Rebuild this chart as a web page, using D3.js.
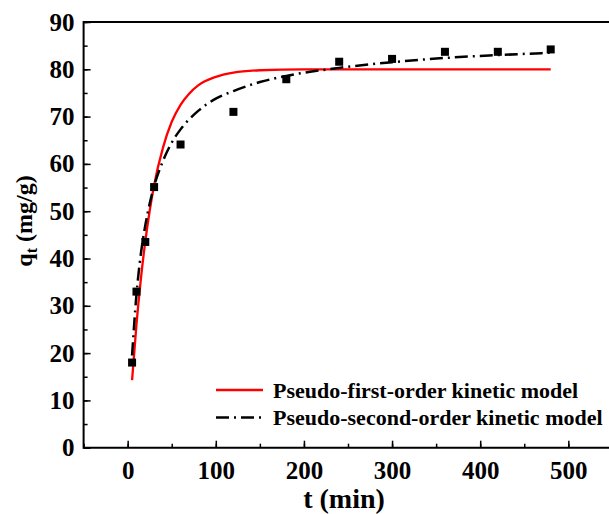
<!DOCTYPE html>
<meta charset="utf-8">
<script src="https://d3js.org/d3.v7.min.js"></script>
<style>
    body { margin: 0; background: #fff; }
    text { font-family: "Liberation Serif", "Times New Roman", serif; font-weight: bold; }
</style>
<div id="chart"></div>
<script>
    // measured points (t in min, qt in mg/g)
    var expTime = [5, 10, 20, 30, 60, 120, 180, 240, 300, 360, 420, 480];
    var expQt = [18.0, 33.0, 43.5, 55.1, 64.1, 71.0, 77.9, 81.6, 82.2, 83.7, 83.7, 84.2];

    // fitted curves
    var pfoTime = [5, 10, 15, 20, 25, 30, 40, 50, 60, 70, 80, 100, 120, 150, 200, 300, 480];
    var pfoQt = [14.3, 26.1, 35.7, 43.6, 50.1, 55.5, 63.4, 68.9, 72.5, 74.9, 76.6, 78.4, 79.3, 79.8, 80.0, 80.0, 80.0];

    var psoTime = [5, 10, 15, 20, 25, 30, 40, 50, 60, 80, 100, 120, 150, 180, 240, 300, 360, 420, 480];
    var psoQt = [19.5, 32.4, 41.0, 47.0, 51.6, 55.3, 60.6, 64.5, 67.3, 71.2, 73.8, 75.4, 77.3, 78.6, 80.3, 81.5, 82.4, 83.0, 83.5];

    var xTicks = [0, 100, 200, 300, 400, 500];
    var yTicks = [0, 10, 20, 30, 40, 50, 60, 70, 80, 90];
    var legendLabels = ["Pseudo-first-order kinetic model", "Pseudo-second-order kinetic model"];

    var W = 609, H = 514;
    var plotLeft = 83.6, plotRight = 612.4, plotTop = 22, plotBottom = 447.7;

    var svg = d3.select("#chart").append("svg")
        .attr("width", W).attr("height", H);

    var x = d3.scaleLinear().domain([-50, 550]).range([plotLeft, plotRight]);
    var y = d3.scaleLinear().domain([0, 90]).range([plotBottom, plotTop]);

    // minor ticks
    svg.append("g")
        .attr("transform", "translate(0," + plotBottom + ")")
        .call(d3.axisBottom(x).tickValues(d3.range(-50, 551, 50)).tickSize(-4).tickFormat(""))
        .call(g => g.select(".domain").remove())
        .selectAll("line").attr("stroke-width", 1.5);
    svg.append("g")
        .attr("transform", "translate(" + plotLeft + ",0)")
        .call(d3.axisLeft(y).tickValues(d3.range(0, 91, 5)).tickSize(-4).tickFormat(""))
        .call(g => g.select(".domain").remove())
        .selectAll("line").attr("stroke-width", 1.5);

    // major ticks + labels
    var xAxis = svg.append("g")
        .attr("transform", "translate(0," + plotBottom + ")")
        .call(d3.axisBottom(x).tickValues(xTicks).tickSize(-7).tickPadding(14));
    var yAxis = svg.append("g")
        .attr("transform", "translate(" + plotLeft + ",0)")
        .call(d3.axisLeft(y).tickValues(yTicks).tickSize(-7).tickPadding(9));
    [xAxis, yAxis].forEach(function (a) {
        a.select(".domain").remove();
        a.selectAll("line").attr("stroke-width", 1.5);
        a.selectAll("text").attr("font-size", 25).attr("fill", "#000");
    });

    // frame (left, bottom, top; right side falls off the canvas)
    svg.append("path")
        .attr("d", "M" + plotRight + "," + plotTop + "H" + plotLeft + "V" + plotBottom + "H" + plotRight)
        .attr("fill", "none").attr("stroke", "#000").attr("stroke-width", 2);

    var line = d3.line()
        .x(function (d) { return x(d[0]); })
        .y(function (d) { return y(d[1]); })
        .curve(d3.curveMonotoneX);

    svg.append("path")
        .datum(d3.zip(pfoTime, pfoQt))
        .attr("d", line)
        .attr("fill", "none").attr("stroke", "#ff0000").attr("stroke-width", 2.3);

    svg.append("path")
        .datum(d3.zip(psoTime, psoQt))
        .attr("d", line)
        .attr("fill", "none").attr("stroke", "#000").attr("stroke-width", 2.5)
        .attr("stroke-dasharray", "13,5,2,5");

    svg.selectAll("rect.pt")
        .data(d3.zip(expTime, expQt))
        .enter().append("rect")
        .attr("class", "pt")
        .attr("x", function (d) { return x(d[0]) - 4; })
        .attr("y", function (d) { return y(d[1]) - 4; })
        .attr("width", 8).attr("height", 8)
        .attr("fill", "#000");

    // legend
    var lg = svg.append("g").attr("transform", "translate(216,390)");
    lg.append("line").attr("x1", 0).attr("x2", 47).attr("y1", 0).attr("y2", 0)
        .attr("stroke", "#ff0000").attr("stroke-width", 2.3);
    lg.append("line").attr("x1", 0).attr("x2", 47).attr("y1", 27.5).attr("y2", 27.5)
        .attr("stroke", "#000").attr("stroke-width", 2.5).attr("stroke-dasharray", "13,5,2,5");
    lg.selectAll("text.lab")
        .data(legendLabels)
        .enter().append("text")
        .attr("x", 57)
        .attr("y", function (d, i) { return i * 27.5 + 7.5; })
        .attr("font-size", 22)
        .text(function (d) { return d; });

    // axis titles
    svg.append("text")
        .attr("x", 344).attr("y", 508)
        .attr("text-anchor", "middle")
        .attr("font-size", 28)
        .text("t (min)");

    var yt = svg.append("text")
        .attr("transform", "translate(32,221) rotate(-90)")
        .attr("text-anchor", "middle")
        .attr("font-size", 24);
    yt.append("tspan").text("q");
    yt.append("tspan").attr("font-size", 16).attr("dy", 5).text("t");
    yt.append("tspan").attr("dy", -5).text(" (mg/g)");
</script>
